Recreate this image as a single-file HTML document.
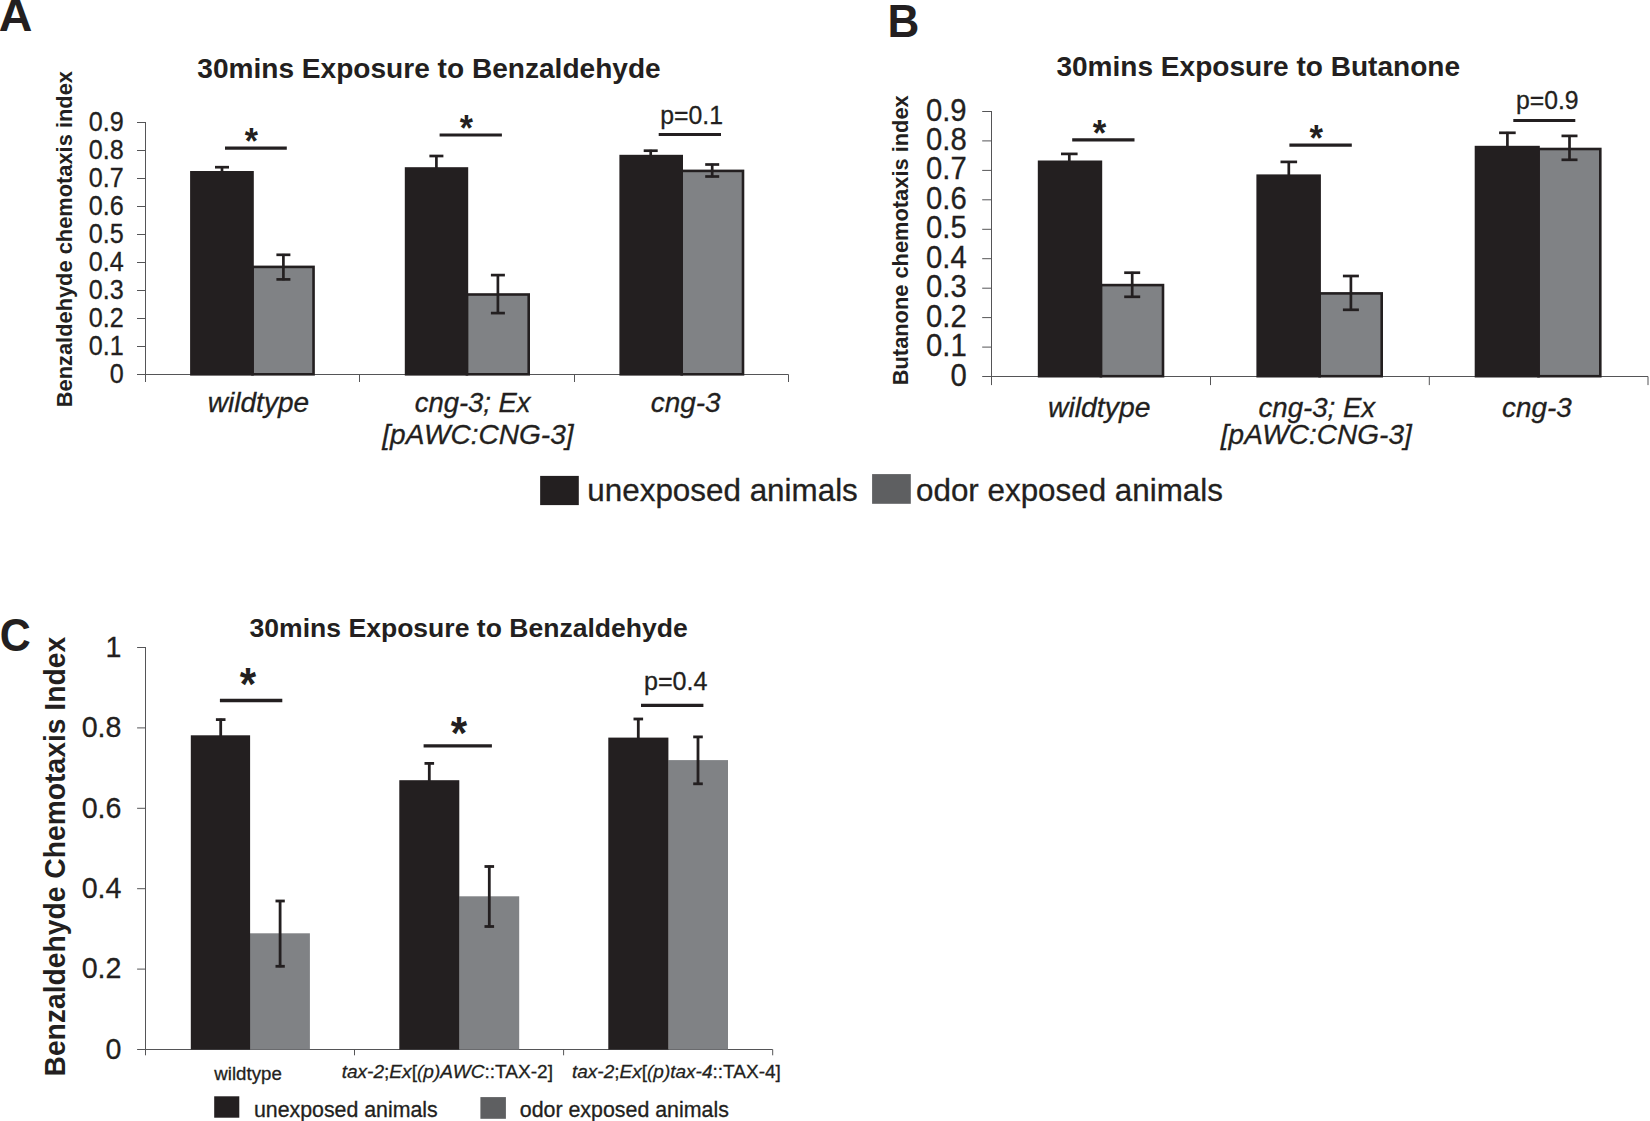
<!DOCTYPE html><html><head><meta charset="utf-8"><title>Figure</title><style>html,body{margin:0;padding:0;background:#fff}svg{display:block}</style></head><body>
<svg width="1650" height="1121" viewBox="0 0 1650 1121" font-family="'Liberation Sans', sans-serif" fill="#231f20">
<rect width="1650" height="1121" fill="#fff"/>
<g stroke="#555557" stroke-width="1" fill="none"><line x1="145.5" y1="122.0" x2="145.5" y2="382.0"/><line x1="137.0" y1="374.5" x2="788.5" y2="374.5"/><line x1="137.0" y1="346.5" x2="145.5" y2="346.5"/><line x1="137.0" y1="318.5" x2="145.5" y2="318.5"/><line x1="137.0" y1="290.5" x2="145.5" y2="290.5"/><line x1="137.0" y1="262.5" x2="145.5" y2="262.5"/><line x1="137.0" y1="234.5" x2="145.5" y2="234.5"/><line x1="137.0" y1="206.5" x2="145.5" y2="206.5"/><line x1="137.0" y1="178.5" x2="145.5" y2="178.5"/><line x1="137.0" y1="150.5" x2="145.5" y2="150.5"/><line x1="137.0" y1="122.5" x2="145.5" y2="122.5"/><line x1="359.5" y1="374.5" x2="359.5" y2="382.0"/><line x1="574.5" y1="374.5" x2="574.5" y2="382.0"/><line x1="788.5" y1="374.5" x2="788.5" y2="382.0"/></g>
<g stroke="#555557" stroke-width="1" fill="none"><line x1="991.5" y1="111.0" x2="991.5" y2="385.1"/><line x1="982.2" y1="376.5" x2="1648.0" y2="376.5"/><line x1="982.2" y1="347.1" x2="991.5" y2="347.1"/><line x1="982.2" y1="317.6" x2="991.5" y2="317.6"/><line x1="982.2" y1="288.2" x2="991.5" y2="288.2"/><line x1="982.2" y1="258.7" x2="991.5" y2="258.7"/><line x1="982.2" y1="229.3" x2="991.5" y2="229.3"/><line x1="982.2" y1="199.8" x2="991.5" y2="199.8"/><line x1="982.2" y1="170.4" x2="991.5" y2="170.4"/><line x1="982.2" y1="140.9" x2="991.5" y2="140.9"/><line x1="982.2" y1="111.5" x2="991.5" y2="111.5"/><line x1="1210.5" y1="376.5" x2="1210.5" y2="385.1"/><line x1="1429.3" y1="376.5" x2="1429.3" y2="385.1"/><line x1="1648.0" y1="376.5" x2="1648.0" y2="385.1"/></g>
<g stroke="#555557" stroke-width="1" fill="none"><line x1="145.5" y1="647.0" x2="145.5" y2="1055.3"/><line x1="137.1" y1="1049.5" x2="772.7" y2="1049.5"/><line x1="137.1" y1="969.1" x2="145.5" y2="969.1"/><line x1="137.1" y1="888.7" x2="145.5" y2="888.7"/><line x1="137.1" y1="808.3" x2="145.5" y2="808.3"/><line x1="137.1" y1="727.9" x2="145.5" y2="727.9"/><line x1="137.1" y1="647.5" x2="145.5" y2="647.5"/><line x1="354.5" y1="1049.5" x2="354.5" y2="1055.3"/><line x1="563.6" y1="1049.5" x2="563.6" y2="1055.3"/><line x1="772.7" y1="1049.5" x2="772.7" y2="1055.3"/></g>
<rect x="252.50" y="266.90" width="61.05" height="107.40" fill="#808285" stroke="#231f20" stroke-width="2.6"/>
<rect x="190.10" y="171.00" width="63.70" height="204.60" fill="#231f20"/>
<rect x="466.90" y="294.50" width="61.80" height="79.80" fill="#808285" stroke="#231f20" stroke-width="2.6"/>
<rect x="404.80" y="167.20" width="63.40" height="208.40" fill="#231f20"/>
<rect x="681.70" y="170.90" width="61.30" height="203.40" fill="#808285" stroke="#231f20" stroke-width="2.6"/>
<rect x="619.40" y="154.80" width="63.60" height="220.80" fill="#231f20"/>
<g stroke="#231f20" stroke-width="2.7" fill="none"><line x1="222.0" y1="166.4" x2="222.0" y2="172.0"/><line x1="215.0" y1="167.2" x2="229.0" y2="167.2"/></g>
<g stroke="#231f20" stroke-width="2.7" fill="none"><line x1="283.4" y1="253.9" x2="283.4" y2="280.3"/><line x1="276.4" y1="254.8" x2="290.4" y2="254.8"/><line x1="276.4" y1="279.4" x2="290.4" y2="279.4"/></g>
<g stroke="#231f20" stroke-width="2.7" fill="none"><line x1="436.4" y1="155.2" x2="436.4" y2="168.0"/><line x1="429.4" y1="156.0" x2="443.4" y2="156.0"/></g>
<g stroke="#231f20" stroke-width="2.7" fill="none"><line x1="497.9" y1="274.2" x2="497.9" y2="314.0"/><line x1="490.9" y1="275.1" x2="504.9" y2="275.1"/><line x1="490.9" y1="313.1" x2="504.9" y2="313.1"/></g>
<g stroke="#231f20" stroke-width="2.7" fill="none"><line x1="650.7" y1="149.8" x2="650.7" y2="156.0"/><line x1="643.7" y1="150.7" x2="657.7" y2="150.7"/></g>
<g stroke="#231f20" stroke-width="2.7" fill="none"><line x1="712.2" y1="163.7" x2="712.2" y2="177.3"/><line x1="705.2" y1="164.5" x2="719.2" y2="164.5"/><line x1="705.2" y1="176.5" x2="719.2" y2="176.5"/></g>
<line x1="225.0" y1="148.2" x2="286.8" y2="148.2" stroke="#231f20" stroke-width="3.2"/>
<line x1="439.6" y1="135.0" x2="501.9" y2="135.0" stroke="#231f20" stroke-width="3.2"/>
<line x1="658.7" y1="134.5" x2="721.0" y2="134.5" stroke="#231f20" stroke-width="3.2"/>
<rect x="1100.90" y="285.10" width="62.10" height="91.10" fill="#808285" stroke="#231f20" stroke-width="2.6"/>
<rect x="1037.80" y="160.50" width="64.40" height="217.00" fill="#231f20"/>
<rect x="1319.60" y="293.40" width="62.10" height="82.80" fill="#808285" stroke="#231f20" stroke-width="2.6"/>
<rect x="1256.40" y="174.40" width="64.50" height="203.10" fill="#231f20"/>
<rect x="1538.50" y="149.00" width="61.80" height="227.20" fill="#808285" stroke="#231f20" stroke-width="2.6"/>
<rect x="1474.70" y="145.80" width="65.10" height="231.70" fill="#231f20"/>
<g stroke="#231f20" stroke-width="2.7" fill="none"><line x1="1069.3" y1="153.1" x2="1069.3" y2="161.0"/><line x1="1061.0" y1="153.9" x2="1077.6" y2="153.9"/></g>
<g stroke="#231f20" stroke-width="2.7" fill="none"><line x1="1132.2" y1="271.8" x2="1132.2" y2="297.7"/><line x1="1124.2" y1="272.7" x2="1140.2" y2="272.7"/><line x1="1124.2" y1="296.8" x2="1140.2" y2="296.8"/></g>
<g stroke="#231f20" stroke-width="2.7" fill="none"><line x1="1288.8" y1="161.1" x2="1288.8" y2="175.0"/><line x1="1280.5" y1="161.9" x2="1297.1" y2="161.9"/></g>
<g stroke="#231f20" stroke-width="2.7" fill="none"><line x1="1350.9" y1="275.1" x2="1350.9" y2="310.6"/><line x1="1342.9" y1="276.0" x2="1358.9" y2="276.0"/><line x1="1342.9" y1="309.8" x2="1358.9" y2="309.8"/></g>
<g stroke="#231f20" stroke-width="2.7" fill="none"><line x1="1507.4" y1="131.9" x2="1507.4" y2="147.0"/><line x1="1499.1" y1="132.8" x2="1515.7" y2="132.8"/></g>
<g stroke="#231f20" stroke-width="2.7" fill="none"><line x1="1569.5" y1="135.1" x2="1569.5" y2="160.7"/><line x1="1561.5" y1="135.9" x2="1577.5" y2="135.9"/><line x1="1561.5" y1="159.8" x2="1577.5" y2="159.8"/></g>
<line x1="1072.2" y1="139.8" x2="1134.5" y2="139.8" stroke="#231f20" stroke-width="3.2"/>
<line x1="1289.4" y1="145.1" x2="1351.8" y2="145.1" stroke="#231f20" stroke-width="3.2"/>
<line x1="1513.3" y1="120.5" x2="1575.3" y2="120.5" stroke="#231f20" stroke-width="3.2"/>
<rect x="250.0" y="933.3" width="59.9" height="116.2" fill="#808285"/>
<rect x="190.8" y="735.3" width="59.3" height="314.2" fill="#231f20"/>
<rect x="459.2" y="896.3" width="60.0" height="153.2" fill="#808285"/>
<rect x="399.3" y="780.2" width="60.0" height="269.3" fill="#231f20"/>
<rect x="668.3" y="760.1" width="59.7" height="289.4" fill="#808285"/>
<rect x="608.3" y="737.6" width="60.1" height="311.9" fill="#231f20"/>
<g stroke="#231f20" stroke-width="2.8" fill="none"><line x1="220.7" y1="718.7" x2="220.7" y2="736.0"/><line x1="215.9" y1="719.6" x2="225.5" y2="719.6"/></g>
<g stroke="#231f20" stroke-width="2.8" fill="none"><line x1="280.1" y1="900.1" x2="280.1" y2="967.2"/><line x1="275.5" y1="901.0" x2="284.8" y2="901.0"/><line x1="275.5" y1="966.3" x2="284.8" y2="966.3"/></g>
<g stroke="#231f20" stroke-width="2.8" fill="none"><line x1="429.3" y1="762.5" x2="429.3" y2="781.0"/><line x1="424.5" y1="763.4" x2="434.1" y2="763.4"/></g>
<g stroke="#231f20" stroke-width="2.8" fill="none"><line x1="489.3" y1="865.6" x2="489.3" y2="927.4"/><line x1="484.5" y1="866.5" x2="494.1" y2="866.5"/><line x1="484.5" y1="926.5" x2="494.1" y2="926.5"/></g>
<g stroke="#231f20" stroke-width="2.8" fill="none"><line x1="638.3" y1="718.1" x2="638.3" y2="738.0"/><line x1="633.5" y1="719.0" x2="643.1" y2="719.0"/></g>
<g stroke="#231f20" stroke-width="2.8" fill="none"><line x1="698.0" y1="736.0" x2="698.0" y2="784.7"/><line x1="693.2" y1="736.9" x2="702.8" y2="736.9"/><line x1="693.2" y1="783.8" x2="702.8" y2="783.8"/></g>
<line x1="219.9" y1="700.5" x2="282.3" y2="700.5" stroke="#231f20" stroke-width="3.3"/>
<line x1="423.6" y1="745.9" x2="491.9" y2="745.9" stroke="#231f20" stroke-width="3.3"/>
<line x1="641.0" y1="705.4" x2="703.4" y2="705.4" stroke="#231f20" stroke-width="3.3"/>
<rect x="540.15" y="475.9" width="38.65" height="29.2" fill="#231f20"/>
<rect x="872.1" y="474.1" width="38.7" height="29.7" fill="#5e5f61"/>
<rect x="214.2" y="1096.3" width="25.1" height="21.4" fill="#231f20"/>
<rect x="480.4" y="1097.1" width="25.5" height="21.7" fill="#5e5f61"/>
<text transform="translate(-1.28 31.30) scale(1.0248 1)" font-size="45.5" font-weight="bold">A</text>
<text transform="translate(887.49 37.30) scale(0.9694 1)" font-size="45.5" font-weight="bold">B</text>
<text transform="translate(-0.35 650.80) scale(0.9445 1)" font-size="45.5" font-weight="bold">C</text>
<text transform="translate(197.28 77.80) scale(1.0000 1)" font-size="28.09" font-weight="bold">30mins Exposure to Benzaldehyde</text>
<text transform="translate(1056.38 75.60) scale(1.0000 1)" font-size="28.06" font-weight="bold">30mins Exposure to Butanone</text>
<text transform="translate(249.58 637.30) scale(1.0000 1)" font-size="26.55" font-weight="bold">30mins Exposure to Benzaldehyde</text>
<text transform="translate(72.10 407.24) rotate(-90) scale(0.9626 1)" font-size="22.7" font-weight="bold">Benzaldehyde chemotaxis index</text>
<text transform="translate(908.10 385.24) rotate(-90) scale(0.9619 1)" font-size="22.7" font-weight="bold">Butanone chemotaxis index</text>
<text transform="translate(64.90 1076.52) rotate(-90) scale(0.9585 1)" font-size="29.5" font-weight="bold">Benzaldehyde Chemotaxis Index</text>
<text transform="translate(88.86 130.60) scale(0.9390 1)" font-size="26.8" stroke="#231f20" stroke-width="0.3">0.9</text>
<text transform="translate(123.84 158.60) scale(0.9390 1)" text-anchor="end" font-size="26.8" stroke="#231f20" stroke-width="0.3">0.8</text>
<text transform="translate(123.84 186.60) scale(0.9390 1)" text-anchor="end" font-size="26.8" stroke="#231f20" stroke-width="0.3">0.7</text>
<text transform="translate(123.84 214.60) scale(0.9390 1)" text-anchor="end" font-size="26.8" stroke="#231f20" stroke-width="0.3">0.6</text>
<text transform="translate(123.84 242.60) scale(0.9390 1)" text-anchor="end" font-size="26.8" stroke="#231f20" stroke-width="0.3">0.5</text>
<text transform="translate(123.84 270.60) scale(0.9390 1)" text-anchor="end" font-size="26.8" stroke="#231f20" stroke-width="0.3">0.4</text>
<text transform="translate(123.84 298.60) scale(0.9390 1)" text-anchor="end" font-size="26.8" stroke="#231f20" stroke-width="0.3">0.3</text>
<text transform="translate(123.84 326.60) scale(0.9390 1)" text-anchor="end" font-size="26.8" stroke="#231f20" stroke-width="0.3">0.2</text>
<text transform="translate(123.84 354.60) scale(0.9390 1)" text-anchor="end" font-size="26.8" stroke="#231f20" stroke-width="0.3">0.1</text>
<text transform="translate(123.84 382.60) scale(0.9390 1)" text-anchor="end" font-size="26.8" stroke="#231f20" stroke-width="0.3">0</text>
<text transform="translate(925.95 120.50) scale(0.9481 1)" font-size="30.9" stroke="#231f20" stroke-width="0.3">0.9</text>
<text transform="translate(966.68 149.95) scale(0.9481 1)" text-anchor="end" font-size="30.9" stroke="#231f20" stroke-width="0.3">0.8</text>
<text transform="translate(966.68 179.39) scale(0.9481 1)" text-anchor="end" font-size="30.9" stroke="#231f20" stroke-width="0.3">0.7</text>
<text transform="translate(966.68 208.84) scale(0.9481 1)" text-anchor="end" font-size="30.9" stroke="#231f20" stroke-width="0.3">0.6</text>
<text transform="translate(966.68 238.28) scale(0.9481 1)" text-anchor="end" font-size="30.9" stroke="#231f20" stroke-width="0.3">0.5</text>
<text transform="translate(966.68 267.72) scale(0.9481 1)" text-anchor="end" font-size="30.9" stroke="#231f20" stroke-width="0.3">0.4</text>
<text transform="translate(966.68 297.17) scale(0.9481 1)" text-anchor="end" font-size="30.9" stroke="#231f20" stroke-width="0.3">0.3</text>
<text transform="translate(966.68 326.61) scale(0.9481 1)" text-anchor="end" font-size="30.9" stroke="#231f20" stroke-width="0.3">0.2</text>
<text transform="translate(966.68 356.06) scale(0.9481 1)" text-anchor="end" font-size="30.9" stroke="#231f20" stroke-width="0.3">0.1</text>
<text transform="translate(966.68 385.50) scale(0.9481 1)" text-anchor="end" font-size="30.9" stroke="#231f20" stroke-width="0.3">0</text>
<text transform="translate(81.65 737.10) scale(0.9544 1)" font-size="30.0" stroke="#231f20" stroke-width="0.3">0.8</text>
<text transform="translate(121.45 656.70) scale(0.9544 1)" text-anchor="end" font-size="30.0" stroke="#231f20" stroke-width="0.3">1</text>
<text transform="translate(121.45 817.50) scale(0.9544 1)" text-anchor="end" font-size="30.0" stroke="#231f20" stroke-width="0.3">0.6</text>
<text transform="translate(121.45 897.90) scale(0.9544 1)" text-anchor="end" font-size="30.0" stroke="#231f20" stroke-width="0.3">0.4</text>
<text transform="translate(121.45 978.30) scale(0.9544 1)" text-anchor="end" font-size="30.0" stroke="#231f20" stroke-width="0.3">0.2</text>
<text transform="translate(121.45 1058.70) scale(0.9544 1)" text-anchor="end" font-size="30.0" stroke="#231f20" stroke-width="0.3">0</text>
<text transform="translate(207.86 411.90) scale(1.0000 1)" font-size="28.02" stroke="#231f20" stroke-width="0.3" font-style="italic">wildtype</text>
<text transform="translate(414.68 411.90) scale(1.0000 1)" font-size="27.43" stroke="#231f20" stroke-width="0.3" font-style="italic">cng-3; Ex</text>
<text transform="translate(382.24 444.00) scale(1.0000 1)" font-size="28.09" stroke="#231f20" stroke-width="0.3" font-style="italic">[pAWC:CNG-3]</text>
<text transform="translate(650.66 411.90) scale(1.0000 1)" font-size="27.97" stroke="#231f20" stroke-width="0.3" font-style="italic">cng-3</text>
<text transform="translate(1048.05 416.80) scale(1.0000 1)" font-size="28.33" stroke="#231f20" stroke-width="0.3" font-style="italic">wildtype</text>
<text transform="translate(1258.48 416.80) scale(1.0000 1)" font-size="27.63" stroke="#231f20" stroke-width="0.3" font-style="italic">cng-3; Ex</text>
<text transform="translate(1220.83 444.30) scale(1.0000 1)" font-size="28.02" stroke="#231f20" stroke-width="0.3" font-style="italic">[pAWC:CNG-3]</text>
<text transform="translate(1501.97 416.80) scale(1.0000 1)" font-size="27.89" stroke="#231f20" stroke-width="0.3" font-style="italic">cng-3</text>
<text transform="translate(214.35 1079.60) scale(1.0000 1)" font-size="18.67" stroke="#231f20" stroke-width="0.3">wildtype</text>
<text transform="translate(341.64 1078.30) scale(1.0000 1)" font-size="19.08" stroke="#231f20" stroke-width="0.3"><tspan font-style="italic">tax-2</tspan>;<tspan font-style="italic">Ex</tspan>[<tspan font-style="italic">(p)AWC</tspan>::TAX-2]</text>
<text transform="translate(571.94 1078.30) scale(1.0000 1)" font-size="19.03" stroke="#231f20" stroke-width="0.3"><tspan font-style="italic">tax-2</tspan>;<tspan font-style="italic">Ex</tspan>[<tspan font-style="italic">(p)tax-4</tspan>::TAX-4]</text>
<text transform="translate(660.33 123.80) scale(0.9800 1)" font-size="25.3" stroke="#231f20" stroke-width="0.3">p=0.1</text>
<text transform="translate(1515.96 108.80) scale(0.9800 1)" font-size="25.26" stroke="#231f20" stroke-width="0.3">p=0.9</text>
<text transform="translate(643.97 690.20) scale(0.9800 1)" font-size="25.63" stroke="#231f20" stroke-width="0.3">p=0.4</text>
<text transform="translate(587.33 500.90) scale(1.0000 1)" font-size="31.4" stroke="#231f20" stroke-width="0.3">unexposed animals</text>
<text transform="translate(916.04 500.90) scale(1.0000 1)" font-size="31.36" stroke="#231f20" stroke-width="0.3">odor exposed animals</text>
<text transform="translate(253.94 1116.70) scale(1.0000 1)" font-size="21.34" stroke="#231f20" stroke-width="0.3">unexposed animals</text>
<text transform="translate(519.74 1116.70) scale(1.0000 1)" font-size="21.39" stroke="#231f20" stroke-width="0.3">odor exposed animals</text>
<text transform="translate(244.87 153.89) scale(0.9123 1)" font-size="37.2" font-weight="bold">*</text>
<text transform="translate(459.87 140.89) scale(0.9123 1)" font-size="37.2" font-weight="bold">*</text>
<text transform="translate(1092.67 145.78) scale(0.9263 1)" font-size="37.47" font-weight="bold">*</text>
<text transform="translate(1309.57 151.08) scale(0.9263 1)" font-size="37.47" font-weight="bold">*</text>
<text transform="translate(239.77 700.28) scale(0.9014 1)" font-size="46.63" font-weight="bold">*</text>
<text transform="translate(450.77 748.58) scale(0.9014 1)" font-size="46.63" font-weight="bold">*</text>
<!--STARS-->
</svg></body></html>
